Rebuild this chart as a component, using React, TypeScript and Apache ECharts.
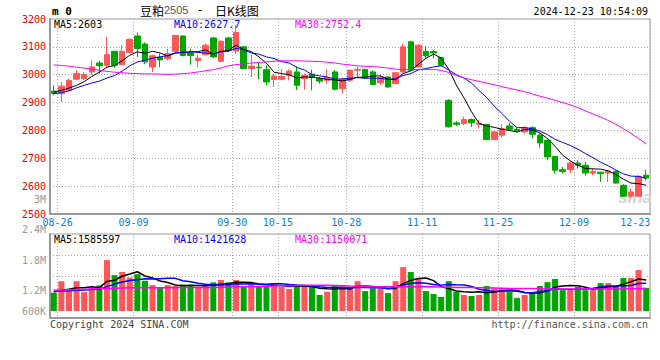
import React, { useEffect, useRef } from 'react';
import * as echarts from 'echarts';

const dates = ['08-26','08-27','08-28','08-29','08-30','09-02','09-03','09-04','09-05','09-06','09-09','09-10','09-11','09-12','09-13','09-18','09-19','09-20','09-23','09-24','09-25','09-26','09-27','09-30','10-08','10-09','10-10','10-11','10-14','10-15','10-16','10-17','10-18','10-21','10-22','10-23','10-24','10-25','10-28','10-29','10-30','10-31','11-01','11-04','11-05','11-06','11-07','11-08','11-11','11-12','11-13','11-14','11-15','11-18','11-19','11-20','11-21','11-22','11-25','11-26','11-27','11-28','11-29','12-02','12-03','12-04','12-05','12-06','12-09','12-10','12-11','12-12','12-13','12-16','12-17','12-18','12-19','12-20','12-23'];
const xTickDates = ['08-26','09-09','09-30','10-15','10-28','11-11','11-25','12-09','12-23'];

const opens = [2941,2932,2944,2984,2986,3010,3042,3034,3084,3036,3080,3139,3110,3028,3063,3057,3084,3139,3078,3051,3072,3132,3048,3132,3085,3100,3022,3027,3018,2983,2984,2998,3010,2986,3002,2986,2980,3010,2950,2980,3016,3019,3010,2971,2992,2968,3010,3118,3028,3084,3083,3062,2908,2827,2825,2839,2822,2821,2767,2783,2816,2803,2795,2810,2783,2765,2707,2659,2659,2683,2675,2647,2650,2647,2653,2603,2564,2564,2639];
const closes = [2933,2959,2980,3004,3001,3028,3032,3072,3034,3084,3127,3094,3046,3068,3053,3075,3141,3069,3069,3059,3106,3064,3120,3088,3152,3022,3031,3025,2974,2995,2994,3013,2962,2998,2990,2977,2990,2948,2983,3016,3019,2990,2965,2990,2956,3007,3100,3016,3106,3068,3078,3034,2813,2822,2839,2827,2826,2767,2795,2807,2804,2798,2810,2786,2755,2705,2657,2653,2683,2675,2647,2653,2645,2654,2611,2564,2579,2635,2629];
const lows = [2926,2902,2941,2980,2980,3001,3004,3028,3024,3034,3076,3064,3038,3010,3027,3051,3081,3066,3036,3026,3070,3060,3046,3082,3074,3020,2992,2984,2962,2956,2980,2980,2945,2947,2944,2968,2968,2944,2932,2974,2986,2986,2962,2962,2954,2965,3007,3014,3026,3058,3058,3032,2810,2815,2819,2813,2807,2765,2765,2774,2798,2795,2789,2771,2738,2693,2645,2645,2647,2663,2639,2639,2615,2615,2609,2561,2559,2561,2621];
const highs = [2962,2974,2986,3016,3010,3052,3050,3136,3086,3106,3130,3151,3116,3072,3075,3093,3143,3141,3093,3072,3112,3136,3124,3136,3178,3102,3072,3044,3034,3004,3020,3019,3030,3004,3019,2992,3019,3016,2990,3019,3028,3022,3016,2998,2995,3010,3112,3122,3110,3102,3088,3064,2912,2833,2849,2843,2837,2822,2798,2822,2827,2810,2815,2815,2789,2767,2707,2669,2687,2693,2687,2663,2651,2657,2657,2607,2591,2639,2659];

const ma5 = [2938,2944,2952,2962,2975,2994,3009,3027,3033,3050,3070,3082,3077,3084,3078,3067,3077,3081,3081,3083,3089,3073,3084,3087,3106,3090,3083,3064,3041,3009,3004,3000,2988,2992,2991,2988,2983,2981,2978,2983,2991,2991,2995,2996,2984,2982,3004,3014,3037,3059,3074,3060,3020,2963,2917,2867,2825,2816,2811,2804,2800,2794,2803,2801,2791,2771,2743,2711,2691,2675,2663,2662,2661,2655,2642,2625,2611,2609,2603];
const ma10 = [2932,2936,2942,2953,2962,2970,2977,2988,2997,3013,3032,3046,3052,3059,3064,3069,3079,3079,3083,3080,3078,3075,3082,3084,3095,3089,3078,3074,3064,3058,3047,3042,3026,3017,3000,2996,2992,2984,2985,2987,2990,2987,2988,2987,2983,2986,2997,3004,3017,3022,3028,3032,3017,3000,2988,2970,2943,2918,2887,2861,2833,2810,2810,2806,2798,2785,2768,2757,2746,2733,2717,2702,2686,2673,2658,2644,2636,2635,2628];
const ma30 = [3035,3033,3031,3027,3024,3020,3016,3012,3009,3007,3005,3004,3003,3003,3002,3001,3002,3004,3006,3010,3014,3018,3024,3032,3036,3039,3042,3044,3046,3048,3050,3050,3050,3049,3048,3047,3045,3042,3038,3035,3032,3030,3029,3027,3024,3020,3018,3018,3019,3019,3019,3016,3008,2998,2988,2982,2976,2970,2964,2957,2951,2945,2939,2931,2923,2916,2908,2900,2892,2882,2870,2859,2848,2836,2822,2806,2789,2771,2752];

const vols = [940000,1530000,1020000,1530000,970000,1160000,1310000,2610000,1840000,2000000,1720000,1890000,1550000,1330000,1190000,1330000,1280000,1360000,1360000,1190000,1280000,1470000,1590000,1470000,1590000,1280000,1360000,1230000,1280000,1430000,1230000,1130000,1330000,1240000,1330000,820000,990000,1280000,1330000,1240000,1530000,1020000,1160000,1160000,920000,1530000,2250000,2000000,1640000,1020000,870000,720000,1530000,990000,820000,770000,820000,1280000,1160000,1160000,970000,660000,820000,920000,1280000,1480000,1640000,1070000,1070000,1230000,1070000,1070000,1430000,1430000,1280000,1690000,1690000,2100000,1190000];
const volMa5 = [990000,1050000,1120000,1190000,1198000,1242000,1198000,1516000,1578000,1784000,1896000,2012000,1800000,1698000,1536000,1458000,1336000,1298000,1304000,1304000,1294000,1332000,1378000,1400000,1480000,1480000,1458000,1386000,1348000,1316000,1306000,1260000,1280000,1272000,1252000,1170000,1142000,1132000,1150000,1132000,1274000,1280000,1256000,1222000,1158000,1158000,1404000,1572000,1668000,1688000,1556000,1250000,1156000,1026000,986000,966000,986000,936000,970000,1038000,1078000,1046000,954000,906000,930000,1032000,1228000,1278000,1308000,1298000,1216000,1102000,1174000,1246000,1256000,1380000,1504000,1638000,1585597];
const volMa10 = [1020000,1030000,1040000,1060000,1080000,1100000,1110000,1250000,1380000,1491000,1569000,1605000,1658000,1638000,1660000,1677000,1674000,1549000,1501000,1420000,1376000,1334000,1338000,1352000,1392000,1387000,1395000,1382000,1374000,1398000,1393000,1359000,1333000,1310000,1284000,1238000,1201000,1206000,1211000,1192000,1222000,1211000,1194000,1186000,1145000,1216000,1342000,1414000,1445000,1423000,1357000,1327000,1364000,1347000,1337000,1261000,1118000,1046000,998000,1012000,1022000,1016000,945000,938000,984000,1055000,1137000,1116000,1107000,1114000,1124000,1165000,1226000,1277000,1277000,1298000,1303000,1406000,1421628];
const volMa30 = [1070000,1080000,1090000,1100000,1110000,1130000,1150000,1160000,1170000,1180000,1190000,1190000,1190000,1190000,1190000,1190000,1200000,1200000,1200000,1200000,1200000,1210000,1220000,1230000,1240000,1240000,1250000,1260000,1270000,1280000,1290000,1300000,1310000,1320000,1320000,1320000,1320000,1310000,1300000,1280000,1270000,1260000,1250000,1240000,1240000,1240000,1240000,1240000,1240000,1240000,1240000,1230000,1220000,1210000,1200000,1200000,1190000,1190000,1180000,1170000,1160000,1160000,1150000,1150000,1140000,1130000,1130000,1130000,1130000,1130000,1130000,1130000,1130000,1130000,1130000,1130000,1140000,1140000,1150071];

const priceTicks = { min: 2500, max: 3200, step: 100 };
const volLabelValues = [800000, 1200000, 1800000, 2400000, 3000000];
const volLabelTexts = ['600K', '1.2M', '1.8M', '2.4M', '3M'];

const MONO = '"DejaVu Sans Mono", "Liberation Mono", monospace';
const CJK = '"Noto Sans CJK SC", sans-serif';
const RED = '#ff5757';
const GREEN = '#00a600';
const GRID_C = '#aaaaaa';
const BORDER = '#999999';

function txt(text: string, x: number, y: number, fill: string, extra: any = {}) {
  const align = extra.align || 'left';
  return {
    type: 'text',
    z: extra.z ?? 100,
    silent: true,
    style: {
      text, x, y, fill,
      fontFamily: extra.fontFamily || MONO,
      fontSize: extra.fontSize || 10,
      fontWeight: extra.fontWeight || 'normal',
      fontStyle: extra.fontStyle || 'normal',
      align, textAlign: align,
      verticalAlign: 'middle', textVerticalAlign: 'middle',
    },
  };
}

export default function App() {
  const ref = useRef<HTMLDivElement>(null);
  useEffect(() => {
    const chart = echarts.init(ref.current!, undefined, { renderer: 'svg' });
    const tickIdx = new Set(xTickDates.map((d) => dates.indexOf(d)));
    const last = dates.length - 1;
    const dotted = { color: GRID_C, width: 1, type: [1, 2] };
    const vSplit = { show: true, interval: (i: number) => tickIdx.has(i - 1), lineStyle: dotted };
    const isUp = (i: number) => closes[i] >= opens[i];

    const option: any = {
      animation: false,
      backgroundColor: '#ffffff',
      textStyle: { fontFamily: MONO },
      grid: [
        { left: 50, top: 19, width: 600, height: 195, show: true, borderColor: BORDER, borderWidth: 1, backgroundColor: 'transparent', outerBoundsMode: 'none', containLabel: false },
        { left: 50, top: 233, width: 600, height: 78, outerBoundsMode: 'none', containLabel: false },
        { left: 50, top: 234, width: 600, height: 84, show: true, borderColor: BORDER, borderWidth: 1, backgroundColor: 'transparent', outerBoundsMode: 'none', containLabel: false },
        { left: 50, top: 199.6, width: 600, height: 111.4, outerBoundsMode: 'none', containLabel: false },
      ],
      xAxis: [
        {
          gridIndex: 0, type: 'category', data: dates, boundaryGap: true,
          axisLine: { show: true, lineStyle: { color: BORDER, width: 2 } },
          axisTick: { show: false },
          axisLabel: {
            show: true, interval: (i: number) => tickIdx.has(i), margin: 3,
            color: '#0a80d8', fontSize: 10, fontFamily: MONO,
            formatter: (v: string, i: number) => (i === last ? `{e|${v}}` : `{n|${v}}`),
            rich: {
              n: { padding: [0, 0, 0, 7.6], color: '#0a80d8', fontSize: 10, fontFamily: MONO },
              e: { padding: [0, 22, 0, 0], color: '#0a80d8', fontSize: 10, fontFamily: MONO },
            },
          },
          splitLine: vSplit,
        },
        { gridIndex: 1, type: 'category', data: dates, boundaryGap: true, show: false },
        {
          gridIndex: 2, type: 'category', data: dates, boundaryGap: true,
          axisLine: { show: true, lineStyle: { color: BORDER, width: 2 } },
          axisTick: { show: false }, axisLabel: { show: false },
          splitLine: vSplit,
        },
        { gridIndex: 3, type: 'category', data: dates, boundaryGap: true, show: false },
      ],
      yAxis: [
        {
          gridIndex: 0, type: 'value', min: priceTicks.min, max: priceTicks.max, interval: priceTicks.step,
          axisLine: { show: true, lineStyle: { color: BORDER, width: 2 } },
          axisTick: { show: false },
          axisLabel: { color: '#ee0000', fontSize: 10, fontFamily: MONO, margin: 4, formatter: (v: number) => String(v) },
          splitLine: { show: true, showMinLine: false, showMaxLine: false, lineStyle: dotted },
        },
        { gridIndex: 1, type: 'value', min: 0, max: 4000000, show: false },
        {
          gridIndex: 2, type: 'value', min: 0, max: 4, interval: 1,
          axisLine: { show: true, lineStyle: { color: BORDER, width: 2 } },
          axisTick: { show: false }, axisLabel: { show: false },
          splitLine: { show: true, showMinLine: false, showMaxLine: false, lineStyle: dotted },
        },
        {
          gridIndex: 3, type: 'value', min: volLabelValues[0], max: volLabelValues[volLabelValues.length - 1],
          axisLine: { show: false }, axisTick: { show: false }, splitLine: { show: false },
          axisLabel: {
            show: true, customValues: volLabelValues, showMinLabel: true, showMaxLabel: true,
            color: '#999999', fontSize: 10, fontFamily: MONO, margin: 4,
            formatter: (v: number) => {
              const k = volLabelValues.indexOf(v);
              return k >= 0 ? volLabelTexts[k] : '';
            },
          },
        },
      ],
      series: [
        {
          type: 'candlestick', xAxisIndex: 0, yAxisIndex: 0, barWidth: 6,
          data: dates.map((_, i) => [opens[i], closes[i], lows[i], highs[i]]),
          itemStyle: { color: RED, color0: GREEN, borderColor: RED, borderColor0: GREEN, borderWidth: 1 },
          z: 3,
        },
        { type: 'line', xAxisIndex: 0, yAxisIndex: 0, data: ma5, symbol: 'none', lineStyle: { color: '#000000', width: 1 }, z: 4 },
        { type: 'line', xAxisIndex: 0, yAxisIndex: 0, data: ma10, symbol: 'none', lineStyle: { color: '#0000ff', width: 1 }, z: 4 },
        { type: 'line', xAxisIndex: 0, yAxisIndex: 0, data: ma30, symbol: 'none', lineStyle: { color: '#ff00ff', width: 1 }, z: 4 },
        {
          type: 'bar', xAxisIndex: 1, yAxisIndex: 1, barWidth: 6,
          data: vols.map((v, i) => ({ value: v, itemStyle: { color: isUp(i) ? RED : GREEN } })),
          z: 3,
        },
        { type: 'line', xAxisIndex: 1, yAxisIndex: 1, data: volMa5, symbol: 'none', lineStyle: { color: '#000000', width: 1.5 }, z: 4 },
        { type: 'line', xAxisIndex: 1, yAxisIndex: 1, data: volMa10, symbol: 'none', lineStyle: { color: '#0000ff', width: 1.5 }, z: 4 },
        { type: 'line', xAxisIndex: 1, yAxisIndex: 1, data: volMa30, symbol: 'none', lineStyle: { color: '#ff00ff', width: 1.5 }, z: 4 },
      ],
      graphic: [
        txt('sina', 618, 197, '#d4d4d4', { fontFamily: '"Liberation Sans", sans-serif', fontSize: 17, fontWeight: 'bold', fontStyle: 'italic', z: 1 }),
        txt('m 0', 52, 11, '#000000', { fontSize: 11, fontWeight: 'bold' }),
        txt('豆粕', 140, 10, '#000000', { fontFamily: CJK, fontSize: 12 }),
        txt('2505', 164, 10, '#555555', { fontFamily: '"Liberation Sans", sans-serif', fontSize: 11 }),
        txt('-', 200, 10, '#000000', { fontFamily: MONO, fontSize: 12, align: 'center' }),
        txt('日K线图', 215, 10, '#000000', { fontFamily: CJK, fontSize: 12 }),
        txt('2024-12-23 10:54:09', 648, 11, '#000000', { align: 'right' }),
        txt('MA5:2603', 54, 24, '#000000'),
        txt('MA10:2627.7', 174, 24, '#0000ff'),
        txt('MA30:2752.4', 295, 24, '#ff00ff'),
        txt('MA5:1585597', 54, 239, '#000000'),
        txt('MA10:1421628', 174, 239, '#0000ff'),
        txt('MA30:1150071', 295, 239, '#ff00ff'),
        txt('Copyright 2024 SINA.COM', 50, 324, '#444444'),
        txt('http://finance.sina.com.cn', 648, 324, '#555555', { align: 'right' }),
      ],
    };
    chart.setOption(option);
    return () => chart.dispose();
  }, []);
  return (
    <div
      ref={ref}
      style={{ position: 'fixed', left: 0, top: 0, width: 660, height: 360, background: '#ffffff' }}
    />
  );
}
